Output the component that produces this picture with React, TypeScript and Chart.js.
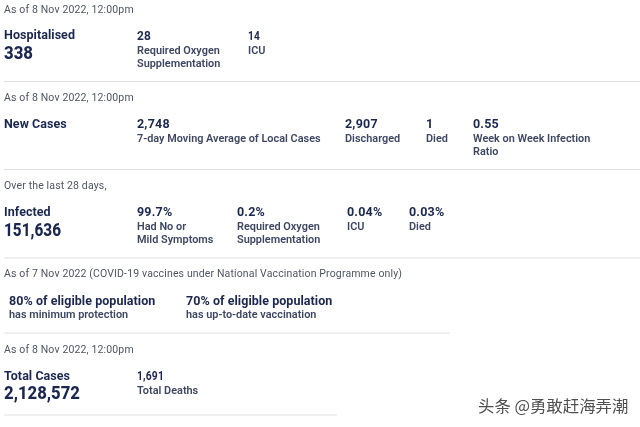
import { Chart, registerables } from "chart.js";
import { useEffect, useRef } from "react";

Chart.register(...registerables);

const asOfLabels = [
  "As of 8 Nov 2022, 12:00pm",
  "As of 8 Nov 2022, 12:00pm",
  "Over the last 28 days,",
  "As of 7 Nov 2022 (COVID-19 vaccines under National Vaccination Programme only)",
  "As of 8 Nov 2022, 12:00pm",
];
const headLabels = ["Hospitalised", "New Cases", "Infected", "Total Cases"];
const headValues = ["338", "", "151,636", "2,128,572"];

const hospitalValues = ["28", "14"];
const hospitalLabels = [["Required Oxygen", "Supplementation"], ["ICU"]];
const newCaseValues = ["2,748", "2,907", "1", "0.55"];
const newCaseLabels = [
  ["7-day Moving Average of Local Cases"],
  ["Discharged"],
  ["Died"],
  ["Week on Week Infection", "Ratio"],
];
const infectedValues = ["99.7%", "0.2%", "0.04%", "0.03%"];
const infectedLabels = [
  ["Had No or", "Mild Symptoms"],
  ["Required Oxygen", "Supplementation"],
  ["ICU"],
  ["Died"],
];
const vaccineValues = ["80% of eligible population", "70% of eligible population"];
const vaccineLabels = ["has minimum protection", "has up-to-date vaccination"];
const totalValues = ["1,691"];
const totalLabels = [["Total Deaths"]];
const watermark = "头条 @勇敢赶海弄潮";

// layout, in page pixels
const asOfY = [13, 101, 189, 277, 353];
const headY = [39, 128, 216, 380];
const headValueY = [59, 0, 236, 399];
const headValueW = [29, 0, 57, 76];
const dividerY = [81.5, 169.5, 258, 333, 415];
const dividerEnd = [640, 640, 640, 450, 337];
const hospitalX = [137, 248];
const hospitalW = [14, 12];
const newCaseX = [137, 345, 426, 473];
const infectedX = [137, 237, 347, 409];
const vaccineX = [9, 186];
const totalW = [27];

const NAVY = "#1b2750";
const SLATE = "#3d4762";
const GREY = "#4f5563";
const FONT = "Roboto, sans-serif";

const textPlugin = {
  id: "panelText",
  afterDraw(chart: Chart) {
    const { ctx, scales } = chart;
    const put = (s: string, x: number, y: number, font: string, color: string, spacing = "0px", w?: number) => {
      ctx.font = font;
      ctx.fillStyle = color;
      (ctx as any).letterSpacing = spacing;
      const px = scales.x.getPixelForValue(x);
      const py = scales.y.getPixelForValue(y);
      if (w) ctx.fillText(s, px, py, w);
      else ctx.fillText(s, px, py);
    };
    const stats = (values: string[], labels: string[][], xs: number[], y: number, widths: number[] = []) => {
      values.forEach((v, i) => {
        put(v, xs[i], y, `700 12.5px ${FONT}`, NAVY, "0.2px", widths[i]);
        labels[i].forEach((l, j) => put(l, xs[i], y + 14 + j * 13, `600 10.9px ${FONT}`, SLATE));
      });
    };

    ctx.save();
    ctx.textBaseline = "alphabetic";
    ctx.textAlign = "left";
    asOfLabels.forEach((s, i) => put(s, 4, asOfY[i], `400 10.5px ${FONT}`, GREY, "0.14px"));
    headLabels.forEach((s, i) => {
      put(s, 4, headY[i], `700 12.5px ${FONT}`, NAVY, "0.05px");
      if (headValues[i]) put(headValues[i], 4, headValueY[i], `800 18px ${FONT}`, NAVY, "0px", headValueW[i]);
    });
    stats(hospitalValues, hospitalLabels, hospitalX, 40, hospitalW);
    stats(newCaseValues, newCaseLabels, newCaseX, 128);
    stats(infectedValues, infectedLabels, infectedX, 216);
    stats(totalValues, totalLabels, [137], 380, totalW);
    vaccineValues.forEach((s, i) => {
      put(s, vaccineX[i], 305, `700 12.5px ${FONT}`, NAVY, "0.05px");
      put(vaccineLabels[i], vaccineX[i], 318, `600 10.9px ${FONT}`, SLATE);
    });
    ctx.shadowColor = "rgba(255,255,255,0.9)";
    ctx.shadowBlur = 2;
    put(watermark, 478, 412, `400 16.4px "Noto Sans CJK SC", sans-serif`, "#505050");
    ctx.restore();
  },
};

export default function App() {
  const canvasRef = useRef<HTMLCanvasElement | null>(null);

  useEffect(() => {
    if (!canvasRef.current) return;
    const chart = new Chart(canvasRef.current, {
      type: "line",
      data: {
        datasets: dividerY.map((y, i) => ({
          data: [
            { x: 4, y },
            { x: dividerEnd[i], y },
          ],
          borderColor: "#e2e2e2",
          borderWidth: 1.2,
          pointRadius: 0,
        })),
      },
      options: {
        animation: false,
        responsive: false,
        devicePixelRatio: 1,
        layout: { padding: 0 },
        plugins: { legend: { display: false }, tooltip: { enabled: false } },
        scales: {
          x: { type: "linear", display: false, min: 0, max: 640 },
          y: { type: "linear", display: false, min: 0, max: 427, reverse: true },
        },
      },
      plugins: [textPlugin],
    });
    return () => chart.destroy();
  }, []);

  return (
    <canvas
      ref={canvasRef}
      width={640}
      height={427}
      style={{ position: "fixed", left: 0, top: 0, width: 640, height: 427, background: "#fff" }}
    />
  );
}
